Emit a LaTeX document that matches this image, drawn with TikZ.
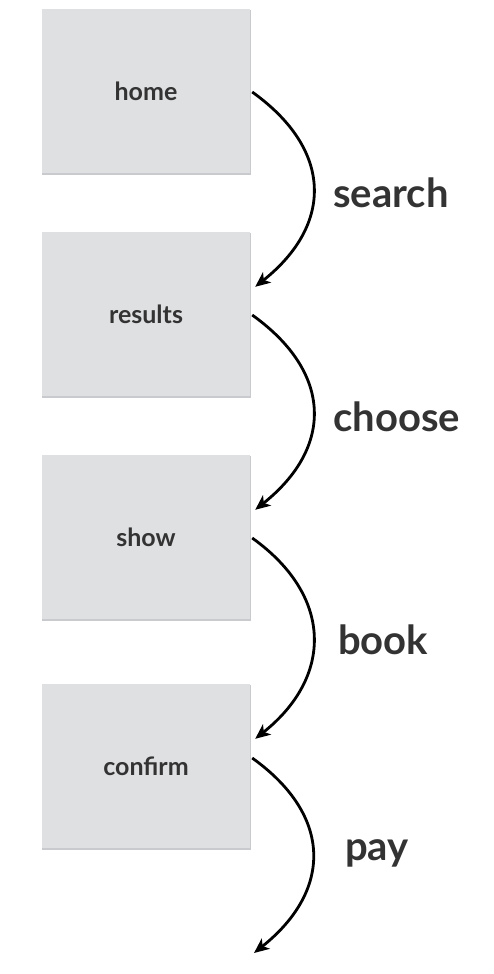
\documentclass[tikz,border=0pt]{standalone}
\usepackage{fontspec}
\setmainfont{Lato}
\usetikzlibrary{arrows.meta}
\definecolor{boxgrey}{HTML}{DFE0E2}
\definecolor{shadowgrey}{HTML}{C9CACD}
\definecolor{txt}{HTML}{333333}
\tikzset{
  page/.style={x=1pt,y=-1pt},
  screen/.style={fill=boxgrey, draw=none, minimum width=208pt, minimum height=164pt, inner sep=0pt,
    text=txt, font=\fontsize{25}{25}\selectfont\bfseries},
  flow/.style={line width=2.8pt, -{Stealth[length=15pt,width=13pt,inset=4pt]}},
  act/.style={text=txt, font=\fontsize{40}{40}\selectfont\bfseries, anchor=west, inner sep=0pt}
}
\begin{document}
\begin{tikzpicture}[page]
\useasboundingbox (0,0) rectangle (494,974);
% shadows
\foreach \y in {91,314,537,766}{
  \fill[shadowgrey] (42,\y-81) rectangle (251,\y+84);
}
\node[screen] (home) at (146,91) {home};
\node[screen] (results) at (146,314) {results};
\node[screen] (show) at (146,537) {show};
\node[screen] (confirm) at (146,766) {confirm};
\coordinate (end) at (254,953);
\draw[flow] ([xshift=2pt,yshift=-1pt]home.east) .. controls +(81,58) and +(78,-62) .. ([xshift=5pt,yshift=-55pt]results.north east);
\draw[flow] ([xshift=2pt,yshift=-1pt]results.east) .. controls +(81,58) and +(78,-62) .. ([xshift=5pt,yshift=-55pt]show.north east);
\draw[flow] ([xshift=2pt,yshift=-1pt]show.east) .. controls +(81,58) and +(78,-62) .. ([xshift=5pt,yshift=-55pt]confirm.north east);
\draw[flow] ([xshift=2pt,yshift=8pt]confirm.east) .. controls +(81,58) and +(78,-62) .. (end);
\node[act] (search) at (333,193) {search};
\node[act] (choose) at (333,417) {choose};
\node[act] (book) at (338,640) {book};
\node[act] (pay) at (345,853) {pay};
\end{tikzpicture}
\end{document}
